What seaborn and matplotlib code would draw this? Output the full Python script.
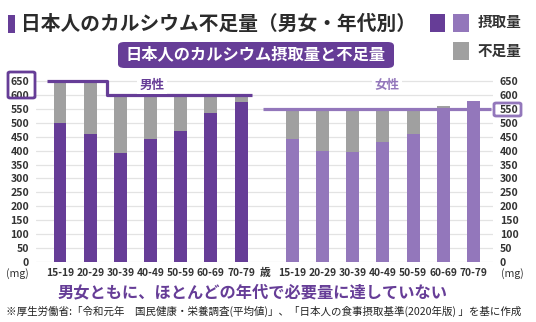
import numpy as np
import pandas as pd
import matplotlib
matplotlib.use("Agg")
import matplotlib.pyplot as plt
from matplotlib.patches import Rectangle, FancyBboxPatch
import seaborn as sns

# ---- data ----
ages = ["15-19", "20-29", "30-39", "40-49", "50-59", "60-69", "70-79"]
male_intake = [500, 458, 390, 440, 471, 534, 575]
male_short = [150, 192, 210, 160, 129, 66, 25]
female_intake = [442, 399, 394, 430, 460, 550, 578]
female_short = [108, 151, 156, 120, 90, 10, 0]
male_req = [650, 650, 600, 600, 600, 600, 600]
female_req = [550, 550, 550, 550, 550, 550, 550]
yticks = list(range(0, 651, 50))

DARK = "#663d97"
LIGHT = "#9377bb"
GRAY = "#a0a0a0"
TXT = "#333333"

sns.set_theme(style="white")
plt.rcParams["font.family"] = ["Noto Sans CJK JP", "DejaVu Sans"]

male_pos = np.arange(7, dtype=float)
female_pos = np.arange(7, dtype=float) + 7.7

df_m = pd.DataFrame({"pos": male_pos, "intake": male_intake,
                     "total": np.array(male_intake) + np.array(male_short)})
df_f = pd.DataFrame({"pos": female_pos, "intake": female_intake,
                     "total": np.array(female_intake) + np.array(female_short)})

W, H = 536, 322
fig = plt.figure(figsize=(W / 100, H / 100), dpi=100)
ax = fig.add_axes([36 / W, 60 / H, 457 / W, 186.6 / H])

bw = 0.43
for d, col in ((df_m, DARK), (df_f, LIGHT)):
    sns.barplot(data=d, x="pos", y="total", native_scale=True, color=GRAY,
                width=bw, saturation=1, ax=ax, zorder=2, errorbar=None,
                linewidth=0)
    sns.barplot(data=d, x="pos", y="intake", native_scale=True, color=col,
                width=bw, saturation=1, ax=ax, zorder=3, errorbar=None,
                linewidth=0)

ax.set_xlim(-0.795, 14.35)
ax.set_ylim(0, 670)
ax.set_yticks(yticks)
ax.grid(axis="y", color="#e3e3e3", linewidth=0.9, zorder=0)
ax.grid(axis="x", visible=False)
for s in ax.spines.values():
    s.set_visible(False)
ax.set_xlabel("")
ax.set_ylabel("")
ax.set_xticks(list(male_pos) + list(female_pos))
ax.set_xticklabels(ages + ages)
ax.tick_params(axis="x", length=0, pad=4.5, labelsize=7.4, labelcolor=TXT)
ax.tick_params(axis="y", length=0, pad=5, labelsize=7.6, labelcolor=TXT,
               labelleft=True, labelright=True)
for lab in ax.get_xticklabels() + ax.get_yticklabels():
    lab.set_fontweight("bold")
for lab in ax.yaxis.get_ticklabels(which="both"):
    lab.set_fontweight("bold")

# requirement lines
mx = [male_pos[0] - 0.43, 1.55, 1.55, male_pos[-1] + 0.36]
my = [male_req[0], male_req[1], male_req[2], male_req[-1]]
ax.plot(mx, my, color=DARK, lw=2.3, zorder=5, solid_capstyle="butt",
        solid_joinstyle="round")
ax.plot([female_pos[0] - 0.97, 14.28], [female_req[0], female_req[-1]],
        color=LIGHT, lw=2.3, zorder=5, solid_capstyle="butt")

ax.text(3.05, 634, "男性", color=DARK, fontsize=9, fontweight="bold",
        ha="center", va="center", zorder=6,
        bbox=dict(facecolor="white", edgecolor="none", pad=1.5))
ax.text(10.84, 634, "女性", color=LIGHT, fontsize=9, fontweight="bold",
        ha="center", va="center", zorder=6,
        bbox=dict(facecolor="white", edgecolor="none", pad=1.5))


def px(x, y):
    return x / W, 1 - y / H


# boxes around 650/600 and 550
fig.patches.append(FancyBboxPatch(px(8, 98), 27 / W, 26 / H,
                                  boxstyle="round,pad=0,rounding_size=0.004",
                                  transform=fig.transFigure, facecolor="none",
                                  edgecolor=DARK, lw=2.0))
fig.patches.append(FancyBboxPatch(px(494, 116), 27 / W, 13 / H,
                                  boxstyle="round,pad=0,rounding_size=0.004",
                                  transform=fig.transFigure, facecolor="none",
                                  edgecolor=LIGHT, lw=2.0))

# axis unit labels
fig.text(*px(17, 274), "(mg)", fontsize=7.6, color=TXT, ha="center", va="center")
fig.text(*px(512, 274), "(mg)", fontsize=7.6, color=TXT, ha="center", va="center")
fig.text(*px(265, 273), "歳", fontsize=7.8, color=TXT, ha="center", va="center",
         fontweight="bold")

# title
fig.patches.append(Rectangle(px(8, 33), 7 / W, 18 / H, transform=fig.transFigure,
                             facecolor=DARK, edgecolor="none"))
fig.text(*px(21, 24), "日本人のカルシウム不足量（男女・年代別）", fontsize=14.2,
         fontweight="bold", color="#2b2b2b", ha="left", va="center")

# subtitle box
fig.patches.append(FancyBboxPatch(px(118, 68), 276 / W, 26 / H,
                                  boxstyle="round,pad=0,rounding_size=0.012",
                                  transform=fig.transFigure, facecolor=DARK,
                                  edgecolor="none"))
fig.text(*px(256, 54.5), "日本人のカルシウム摂取量と不足量", fontsize=11.7,
         fontweight="bold", color="white", ha="center", va="center")

# legend
fig.patches.append(Rectangle(px(430, 32), 15 / W, 18 / H, transform=fig.transFigure,
                             facecolor=DARK, edgecolor="none"))
fig.patches.append(Rectangle(px(453, 32), 16 / W, 18 / H, transform=fig.transFigure,
                             facecolor=LIGHT, edgecolor="none"))
fig.patches.append(Rectangle(px(453, 60), 16 / W, 18 / H, transform=fig.transFigure,
                             facecolor=GRAY, edgecolor="none"))
fig.text(*px(478, 22), "摂取量", fontsize=10.5, fontweight="bold", color=TXT,
         ha="left", va="center")
fig.text(*px(478, 51), "不足量", fontsize=10.5, fontweight="bold", color=TXT,
         ha="left", va="center")

# bottom captions
fig.text(*px(253, 292), "男女ともに、ほとんどの年代で必要量に達していない",
         fontsize=11.7, fontweight="bold", color=DARK, ha="center", va="center")
fig.text(*px(264, 311),
         "※厚生労働省:「令和元年　国民健康・栄養調査(平均値)」、「日本人の食事摂取基準(2020年版) 」を基に作成",
         fontsize=7.55, color="#222222", ha="center", va="center")

fig.savefig("out.png", dpi=100)
